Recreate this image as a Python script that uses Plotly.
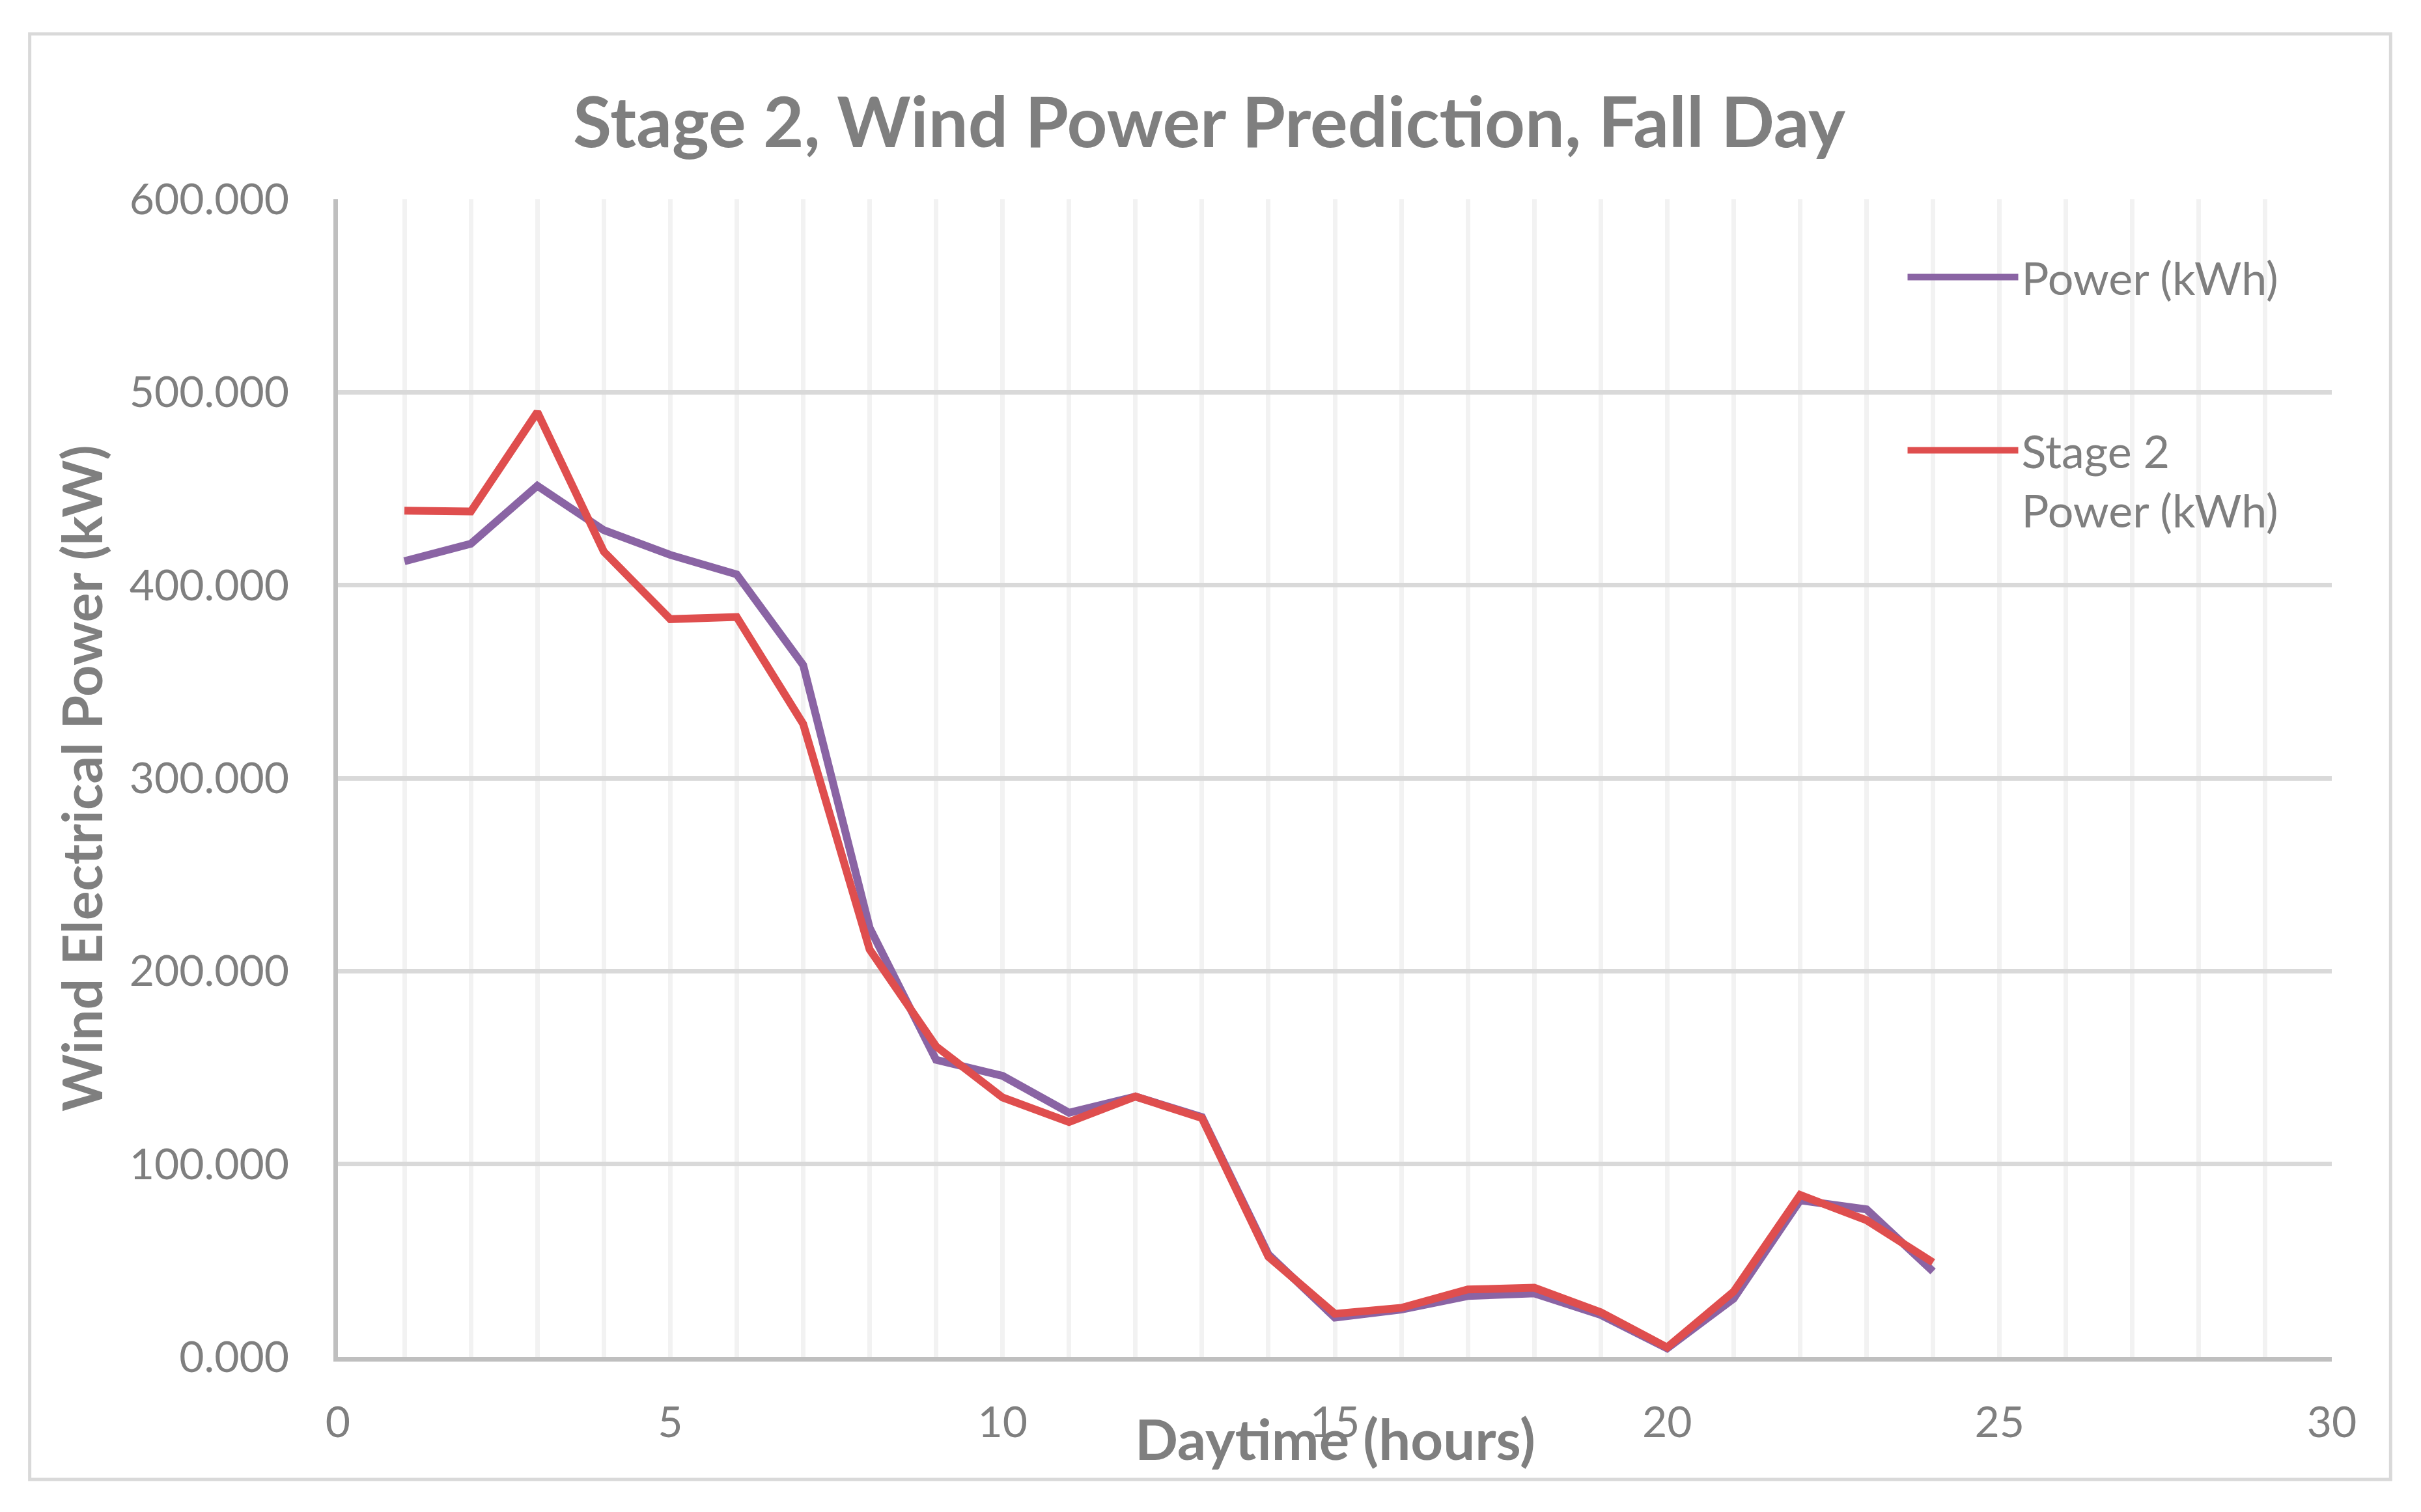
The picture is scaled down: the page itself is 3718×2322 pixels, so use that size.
import plotly.graph_objects as go

hours = list(range(1, 25))
power_kwh = [412.4, 421.5, 451.5, 428.5, 415.7, 405.6, 358.6, 222.4, 154.0, 145.7,
             126.6, 135.0, 124.4, 53.2, 20.4, 24.6, 31.6, 33.0, 21.8, 4.5,
             30.3, 81.2, 76.5, 44.3]
stage2_kwh = [438.6, 438.2, 489.7, 417.4, 382.4, 383.5, 328.1, 211.2, 161.0, 134.5,
              121.8, 135.0, 123.8, 52.0, 22.4, 25.5, 35.0, 35.9, 23.2, 5.0,
              33.9, 84.0, 70.9, 49.0]
series_names = ["Power (kWh)", "Stage 2<br>Power (kWh)"]
series_colors = ["#8A64A4", "#DF4E4E"]

x_ticks = [0, 5, 10, 15, 20, 25, 30]
y_ticks = [0, 100, 200, 300, 400, 500, 600]
y_tick_labels = ["%.3f" % v for v in y_ticks]

FONT = "Lato"
GRAY = "#7F7F7F"

fig = go.Figure()
fig.add_trace(go.Scatter(x=hours, y=power_kwh, mode="lines", name=series_names[0],
                         legendgroup="a",
                         line=dict(color=series_colors[0], width=12)))
fig.add_trace(go.Scatter(x=hours, y=stage2_kwh, mode="lines", name=series_names[1],
                         legendgroup="b",
                         line=dict(color=series_colors[1], width=12)))

fig.update_layout(
    width=3710, height=2314,
    margin=dict(l=511, r=137, t=298, b=238, autoexpand=False),
    paper_bgcolor="white", plot_bgcolor="white",
    font=dict(family=FONT, color=GRAY, size=66),
    title=dict(text="<b>Stage 2, Wind Power Prediction, Fall Day</b>",
               x=0.4984, xref="container", xanchor="center",
               y=0.9222, yref="container", yanchor="middle",
               font=dict(family=FONT, size=108, color=GRAY)),
    showlegend=True,
    legend=dict(x=0.7856, y=0.962, xanchor="left", yanchor="top",
                bgcolor="rgba(0,0,0,0)", font=dict(family=FONT, size=70, color=GRAY),
                traceorder="grouped", tracegroupgap=172, valign="top",
                itemwidth=170),
    xaxis=dict(range=[0, 30], tickvals=x_ticks, ticktext=[str(v) for v in x_ticks],
               showgrid=True, gridcolor="#F2F2F2", gridwidth=6.5,
               minor=dict(dtick=1, tick0=0, showgrid=True, gridcolor="#F2F2F2", gridwidth=6.5),
               showline=True, linecolor="#BFBFBF", linewidth=6.5,
               zeroline=False, ticks="", ticklabelstandoff=37,
               tickfont=dict(family=FONT, size=66, color=GRAY)),
    yaxis=dict(range=[0, 600], tickvals=y_ticks, ticktext=y_tick_labels,
               showgrid=True, gridcolor="#D9D9D9", gridwidth=6.5,
               showline=True, linecolor="#BFBFBF", linewidth=6.5,
               zeroline=False, ticks="", ticklabelstandoff=55,
               tickfont=dict(family=FONT, size=66, color=GRAY)),
    annotations=[
        dict(text="<b>Daytime (hours)</b>", xref="paper", yref="paper",
             x=0.5, y=-0.0703, xanchor="center", yanchor="middle", showarrow=False,
             font=dict(family=FONT, size=87, color=GRAY)),
        dict(text="<b>Wind Electrical Power (kW)</b>", xref="paper", yref="paper",
             x=-0.129, y=0.5, xanchor="center", yanchor="middle", showarrow=False,
             textangle=-90, font=dict(family=FONT, size=84, color=GRAY)),
    ],
    shapes=[dict(type="rect", xref="paper", yref="paper",
                 x0=-0.1546, x1=1.0295, y0=-0.1057, y1=1.1429,
                 line=dict(color="#D9D9D9", width=5), fillcolor="rgba(0,0,0,0)",
                 layer="below")],
)

fig.write_html("out.html")
